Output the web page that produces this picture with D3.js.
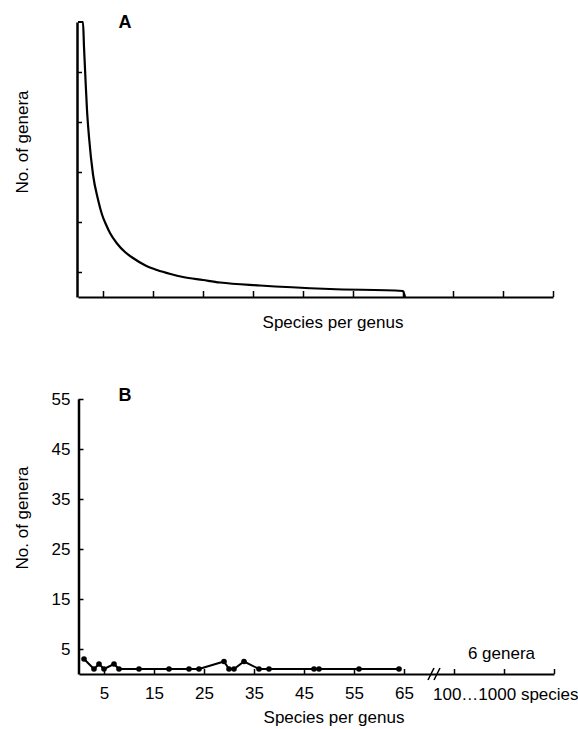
<!DOCTYPE html>
<html>
<head>
<meta charset="utf-8">
<script src="https://cdn.jsdelivr.net/npm/d3@7/dist/d3.min.js"></script>
<style>
  body { margin: 0; background: #fff; }
  svg { display: block; }
  text { font-family: "Liberation Sans", Arial, Helvetica, sans-serif; fill: #000; }
  .axis path, .axis line { stroke: #000; }
</style>
</head>
<body>
<svg id="chart" width="578" height="729"></svg>
<script>
// Panel A: idealised hollow-curve distribution (genera vs. species per genus)
const curveSpecies = [0, 1, 1.2, 1.5, 1.8, 2.2, 3, 4, 4.8, 5.6, 6.4, 7.8, 9.4, 11, 13.5, 15.8, 18.5, 21, 25, 28.4, 36.4, 50.4, 65, 65.4];
const curveGenera  = [55, 55, 50, 43.5, 37.4, 32, 24.5, 19.5, 16.5, 14.5, 12.8, 10.7, 9.0, 7.8, 6.3, 5.4, 4.6, 4.0, 3.4, 2.9, 2.3, 1.6, 1.2, 0];

// Panel B: observed number of genera for each species-per-genus count
const speciesPerGenus = [1, 3, 4, 5, 7, 8, 12, 18, 22, 24, 29, 30, 31, 33, 36, 38, 47, 48, 56, 64];
const generaCount     = [3, 1, 2, 1, 2, 1, 1, 1, 1, 1, 2.5, 1, 1, 2.5, 1, 1, 1, 1, 1, 1];

// Axis ticks and labels
const xTicks = [5, 15, 25, 35, 45, 55, 65, 75, 85, 95];
const xTickLabels = ["5", "15", "25", "35", "45", "55", "65"];
const yTicksA = [5, 15, 25, 35, 45];
const yTicksB = [5, 15, 25, 35, 45, 55];
const yTickLabelsB = ["5", "15", "25", "35", "45", "55"];
const breakAt = 71;            // axis break between 65 and the 100–1000 range
const largeGeneraLabel = "6 genera";
const largeRangeLabel = "100\u20261000 species";

const svg = d3.select("#chart");

/* ---------- Panel A ---------- */
const xA = d3.scaleLinear().domain([0, 95]).range([78, 553]);
const yA = d3.scaleLinear().domain([0, 55]).range([297, 22]);

const gA = svg.append("g");

gA.append("g")
  .attr("class", "axis")
  .attr("transform", `translate(0,${yA(0)})`)
  .call(d3.axisBottom(xA).tickValues(xTicks).tickSizeInner(-6).tickSizeOuter(0).tickFormat(""))
  .call(g => g.select(".domain").attr("stroke-width", 2))
  .call(g => g.selectAll(".tick line").attr("stroke-width", 1.5));

gA.append("g")
  .attr("class", "axis")
  .attr("transform", `translate(${xA(0) - 1},0)`)
  .call(d3.axisLeft(yA).tickValues(yTicksA).tickSizeInner(-5).tickSizeOuter(0).tickFormat(""))
  .call(g => g.select(".domain").attr("stroke-width", 2.5))
  .call(g => g.selectAll(".tick line").attr("stroke-width", 1.5));

const curvePts = curveSpecies.map((s, i) => [s, curveGenera[i]]);
gA.append("path")
  .datum(curvePts)
  .attr("fill", "none")
  .attr("stroke", "#000")
  .attr("stroke-width", 2.2)
  .attr("d", d3.line().x(d => xA(d[0])).y(d => yA(d[1])).curve(d3.curveMonotoneX));

gA.append("text")
  .attr("x", 125).attr("y", 28)
  .attr("text-anchor", "middle")
  .attr("font-size", 18).attr("font-weight", "bold")
  .text("A");

gA.append("text")
  .attr("x", 333).attr("y", 328)
  .attr("text-anchor", "middle")
  .attr("font-size", 17)
  .text("Species per genus");

gA.append("text")
  .attr("transform", `translate(28,142) rotate(-90)`)
  .attr("text-anchor", "middle")
  .attr("font-size", 17)
  .text("No. of genera");

/* ---------- Panel B ---------- */
const xB = d3.scaleLinear().domain([0, 95]).range([79, 554]);
const yB = d3.scaleLinear().domain([0, 55]).range([674, 399]);

const gB = svg.append("g");

gB.append("g")
  .attr("class", "axis")
  .attr("transform", `translate(0,${yB(0)})`)
  .call(d3.axisBottom(xB).tickValues(xTicks).tickSizeInner(-5).tickSizeOuter(0).tickPadding(13)
    .tickFormat((d, i) => i < xTickLabels.length ? xTickLabels[i] : ""))
  .call(g => g.select(".domain").attr("stroke-width", 2))
  .call(g => g.selectAll(".tick line").attr("stroke-width", 1.5))
  .call(g => g.selectAll(".tick text").attr("font-size", 17).attr("font-family", null));

gB.append("g")
  .attr("class", "axis")
  .attr("transform", `translate(${xB(0) - 0.5},0)`)
  .call(d3.axisLeft(yB).tickValues(yTicksB).tickSizeInner(-5).tickSizeOuter(0).tickPadding(8)
    .tickFormat((d, i) => yTickLabelsB[i]))
  .call(g => g.select(".domain").attr("stroke-width", 2.5))
  .call(g => g.selectAll(".tick line").attr("stroke-width", 1.5))
  .call(g => g.selectAll(".tick text").attr("font-size", 17).attr("font-family", null));

// axis break marks
const bx = xB(breakAt), by = yB(0);
[-3, 3].forEach(off => {
  gB.append("line")
    .attr("x1", bx + off - 3).attr("y1", by + 6)
    .attr("x2", bx + off + 3).attr("y2", by - 6)
    .attr("stroke", "#000").attr("stroke-width", 1.5);
});

const obs = speciesPerGenus.map((s, i) => [s, generaCount[i]]);
gB.append("path")
  .datum(obs)
  .attr("fill", "none")
  .attr("stroke", "#000")
  .attr("stroke-width", 2)
  .attr("d", d3.line().x(d => xB(d[0])).y(d => yB(d[1])));

gB.selectAll("circle.pt")
  .data(obs)
  .join("circle")
  .attr("class", "pt")
  .attr("cx", d => xB(d[0]))
  .attr("cy", d => yB(d[1]))
  .attr("r", 2.8)
  .attr("fill", "#000");

gB.append("text")
  .attr("x", xB(84.5)).attr("y", 659)
  .attr("text-anchor", "middle")
  .attr("font-size", 17)
  .text(largeGeneraLabel);

gB.append("text")
  .attr("x", xB(breakAt) - 1).attr("y", 699.5)
  .attr("font-size", 17)
  .text(largeRangeLabel);

gB.append("text")
  .attr("x", 125).attr("y", 401)
  .attr("text-anchor", "middle")
  .attr("font-size", 18).attr("font-weight", "bold")
  .text("B");

gB.append("text")
  .attr("x", 334).attr("y", 723)
  .attr("text-anchor", "middle")
  .attr("font-size", 17)
  .text("Species per genus");

gB.append("text")
  .attr("transform", `translate(28,518) rotate(-90)`)
  .attr("text-anchor", "middle")
  .attr("font-size", 17)
  .text("No. of genera");
</script>
</body>
</html>
